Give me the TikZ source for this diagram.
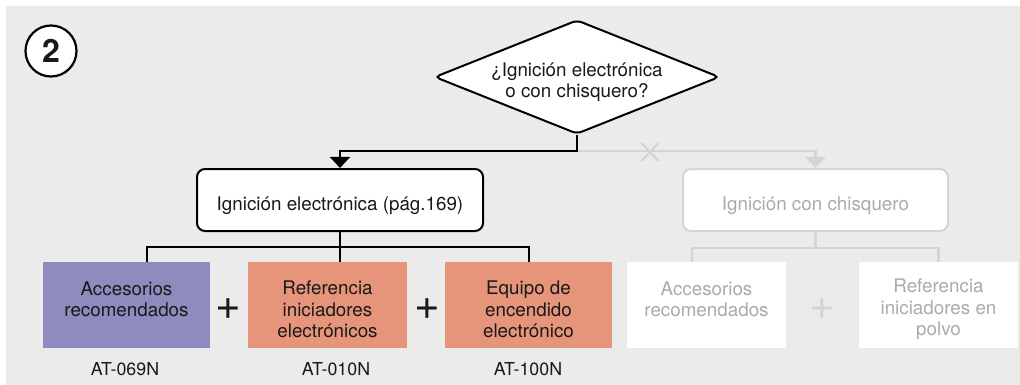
\documentclass[tikz,border=0pt]{standalone}
\usepackage{fontspec}
\setmainfont{TeX Gyre Heros}
\usetikzlibrary{shapes.geometric,shapes.misc,arrows.meta}
\definecolor{bg}{RGB}{235,235,235}
\definecolor{lav}{RGB}{143,139,190}
\definecolor{sal}{RGB}{231,149,122}
\definecolor{ln}{RGB}{212,212,212}
\definecolor{gtxt}{RGB}{170,170,170}
\definecolor{ink}{RGB}{25,25,25}
\newcommand{\topgap}{\rule{0pt}{23pt}}
\begin{document}
\begin{tikzpicture}[x=1pt,y=-1pt,
  font=\fontsize{18.8}{21.5}\selectfont, text=ink,
  blk/.style={draw=black,line width=2pt},
  gry/.style={draw=ln,line width=2.4pt},
  question/.style={diamond,shape aspect=2.5,inner sep=0pt,minimum width=285pt,minimum height=114pt,
     fill=white,draw=black,line width=2pt,rounded corners=5pt},
  qtext/.style={align=center,inner sep=0pt},
  optbox/.style={rectangle,rounded corners=8pt,fill=white,line width=2pt,minimum height=62pt,
     inner sep=0pt,text height=21pt,text depth=0pt},
  item/.style={rectangle,inner sep=0pt,minimum height=86pt,align=center},
  code/.style={font=\fontsize{17.8}{20}\selectfont},
  plus/.style={font=\fontsize{44}{44}\selectfont,inner sep=0pt},
  tipb/.style={-{Triangle[width=20pt,length=11pt]}},
]
\useasboundingbox (0,0) rectangle (1020,385);
\fill[bg] (6,6) rectangle (1020,385);

% step number
\node[circle,draw=black,fill=white,line width=2.2pt,minimum size=51pt,inner sep=0pt,
      font=\fontsize{32}{32}\selectfont\bfseries] (num) at (51,51) {2};

% question
\node[question] (q) at (577,77) {};
\node[qtext] (qt) at (577,82) {¿Ignición electrónica\\o con chisquero?};

% options
\node[optbox,draw=black,minimum width=286pt] (e1) at (340,200) {Ignición electrónica (pág.169)};
\node[optbox,draw=ln,minimum width=265pt,text=gtxt] (e2) at (815.5,200) {Ignición con chisquero};

\coordinate (j) at (577,151);
\draw[gry,tipb] (j) -| (e2.north);
\draw[blk,tipb] (q.south) -- (j) -| (e1.north);
\node[cross out,draw=ln,line width=2.2pt,minimum width=15pt,minimum height=16pt,inner sep=0pt] (xm) at (650,152) {};

% items (electronic)
\node[item,fill=lav,minimum width=167pt] (a1) at (126.5,305) {\topgap Accesorios\\recomendados\\\mbox{}};
\node[item,fill=sal,minimum width=159pt] (a2) at (327.5,305) {\topgap Referencia\\iniciadores\\electrónicos};
\node[item,fill=sal,minimum width=167pt] (a3) at (528.5,305) {\topgap Equipo de\\encendido\\electrónico};
\node[plus] (p1) at (228,309) {+};
\node[plus] (p2) at (427,309) {+};

\coordinate (h) at (340,247);
\coordinate (l1) at (147,262);
\draw[blk] (e1.south) -- (e1.south |- a2.north);
\draw[blk] (l1) |- (h) -| (a3.north);

\node[code] (c1) at (125,369) {AT-069N};
\node[code] (c2) at (336,369) {AT-010N};
\node[code] (c3) at (528,369) {AT-100N};

% items (chisquero)
\node[item,fill=white,minimum width=159pt,text=gtxt] (g1) at (706.5,305) {\topgap Accesorios\\recomendados\\\mbox{}};
\node[item,fill=white,minimum width=159pt,text=gtxt] (g2) at (938.5,305) {\topgap Referencia\\iniciadores en\\polvo};
\node[plus,text=ln] (p3) at (822,309) {+};

\coordinate (gh) at (815.5,248);
\coordinate (gl) at (692,262);
\draw[gry] (e2.south) -- (gh);
\draw[gry] (gl) |- (gh) -| (g2.north);
\end{tikzpicture}
\end{document}
